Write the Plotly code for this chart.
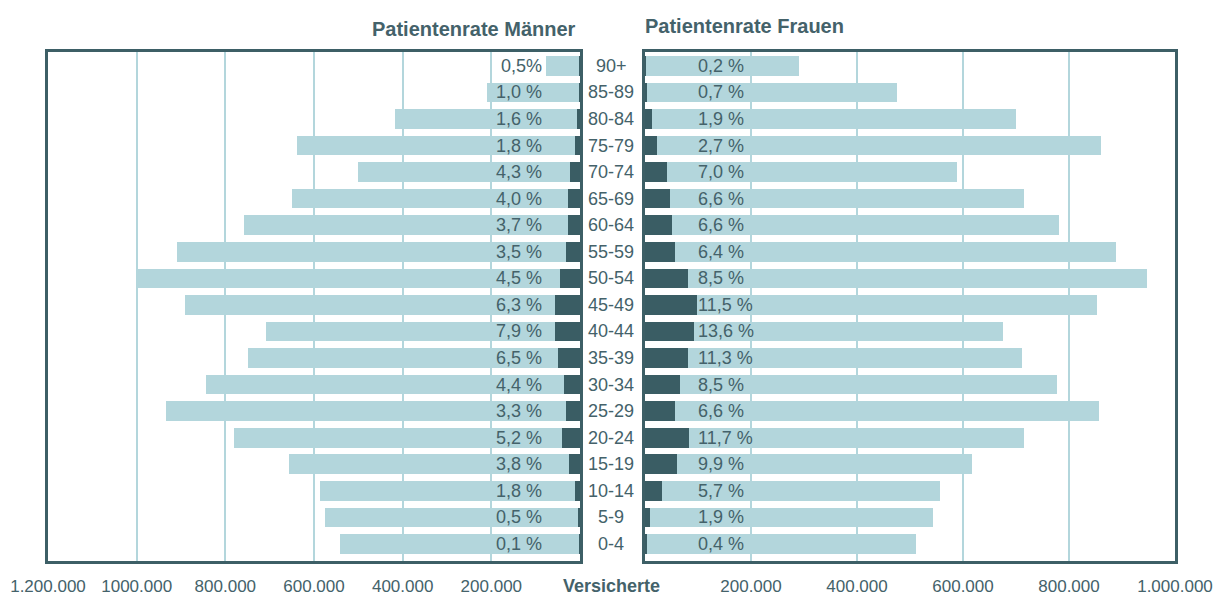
import plotly.graph_objects as go

# Age groups from top (90+) to bottom (0-4)
age_groups = ["90+", "85-89", "80-84", "75-79", "70-74", "65-69", "60-64", "55-59",
              "50-54", "45-49", "40-44", "35-39", "30-34", "25-29", "20-24", "15-19",
              "10-14", "5-9", "0-4"]

# Insured persons (Versicherte) per age group
men_insured = [77000, 210000, 418000, 638000, 500000, 649000, 758000, 909000,
               1000000, 891000, 708000, 749000, 844000, 934000, 780000, 656000,
               586000, 575000, 541000]
women_insured = [290000, 476000, 700000, 860000, 589000, 715000, 782000, 888000,
                 948000, 852000, 675000, 711000, 778000, 856000, 716000, 617000,
                 556000, 544000, 512000]

# Patient rates in percent
men_rate = [0.5, 1.0, 1.6, 1.8, 4.3, 4.0, 3.7, 3.5, 4.5, 6.3, 7.9, 6.5, 4.4, 3.3,
            5.2, 3.8, 1.8, 0.5, 0.1]
women_rate = [0.2, 0.7, 1.9, 2.7, 7.0, 6.6, 6.6, 6.4, 8.5, 11.5, 13.6, 11.3, 8.5,
              6.6, 11.7, 9.9, 5.7, 1.9, 0.4]

men_labels = ["0,5%", "1,0 %", "1,6 %", "1,8 %", "4,3 %", "4,0 %", "3,7 %", "3,5 %",
              "4,5 %", "6,3 %", "7,9 %", "6,5 %", "4,4 %", "3,3 %", "5,2 %", "3,8 %",
              "1,8 %", "0,5 %", "0,1 %"]
women_labels = [f"{r:.1f} %".replace(".", ",") for r in women_rate]

left_tickvals = [1200000, 1000000, 800000, 600000, 400000, 200000]
left_ticktext = ["1.200.000", "1000.000", "800.000", "600.000", "400.000", "200.000"]
right_tickvals = [200000, 400000, 600000, 800000, 1000000]
right_ticktext = ["200.000", "400.000", "600.000", "800.000", "1.000.000"]

men_patients = [v * r / 100 for v, r in zip(men_insured, men_rate)]
women_patients = [v * r / 100 for v, r in zip(women_insured, women_rate)]

W, H = 1225, 597
LIGHT = "#b3d6dc"
DARK = "#3a5d64"
TXT = "#44626a"
FRAME = "#3d5f66"
FONT = "Liberation Sans, Arial, sans-serif"

def px(x):
    return x / W

def py(y):
    return (H - y) / H

fig = go.Figure()
bw = 0.74
fig.add_trace(go.Bar(y=age_groups, x=men_insured, orientation="h", xaxis="x", yaxis="y",
                     marker=dict(color=LIGHT, line=dict(width=0)), width=bw, hoverinfo="skip"))
fig.add_trace(go.Bar(y=age_groups, x=men_patients, orientation="h", xaxis="x", yaxis="y",
                     marker=dict(color=DARK, line=dict(width=0)), width=bw, hoverinfo="skip"))
fig.add_trace(go.Bar(y=age_groups, x=women_insured, orientation="h", xaxis="x2", yaxis="y2",
                     marker=dict(color=LIGHT, line=dict(width=0)), width=bw, hoverinfo="skip"))
fig.add_trace(go.Bar(y=age_groups, x=women_patients, orientation="h", xaxis="x2", yaxis="y2",
                     marker=dict(color=DARK, line=dict(width=0)), width=bw, hoverinfo="skip"))

y_top, y_bot = 52, 561
y_dom = [py(y_bot), py(y_top)]
yrange = [-0.64, 18.52]
cat_order = list(reversed(age_groups))

axis_common = dict(showline=True, mirror=True, linecolor=FRAME, linewidth=2.5,
                   zeroline=False, ticks="", fixedrange=True, automargin=False)

fig.update_layout(
    width=W, height=H,
    margin=dict(l=0, r=0, t=0, b=0, autoexpand=False),
    paper_bgcolor="white", plot_bgcolor="white",
    barmode="overlay", bargap=0, showlegend=False,
    font=dict(family=FONT, color=TXT, size=17),
    xaxis=dict(domain=[px(48), px(580)], range=[1200000, 0], anchor="y",
               tickvals=left_tickvals, ticktext=left_ticktext,
               showgrid=True, gridcolor=LIGHT, gridwidth=2,
               tickfont=dict(size=17, color=TXT), ticklabelstandoff=8, **axis_common),
    xaxis2=dict(domain=[px(645), px(1175)], range=[0, 1000000], anchor="y2",
                tickvals=right_tickvals, ticktext=right_ticktext,
                showgrid=True, gridcolor=LIGHT, gridwidth=2,
                tickfont=dict(size=17, color=TXT), ticklabelstandoff=8, **axis_common),
    yaxis=dict(domain=y_dom, range=yrange, anchor="x", type="category",
               categoryorder="array", categoryarray=cat_order,
               showticklabels=False, showgrid=False, **axis_common),
    yaxis2=dict(domain=y_dom, range=yrange, anchor="x2", type="category",
                categoryorder="array", categoryarray=cat_order,
                showticklabels=False, showgrid=False, **axis_common),
)

annotations = []
for g, lm, lw in zip(age_groups, men_labels, women_labels):
    annotations.append(dict(x=px(611), y=g, xref="paper", yref="y", text=g, showarrow=False,
                            xanchor="center", yanchor="middle", font=dict(size=18, color=TXT)))
    annotations.append(dict(x=px(544), y=g, xref="paper", yref="y", text=lm, showarrow=False,
                            xanchor="right", yanchor="middle", font=dict(size=18, color=TXT)))
    annotations.append(dict(x=px(696), y=g, xref="paper", yref="y2", text=lw, showarrow=False,
                            xanchor="left", yanchor="middle", font=dict(size=18, color=TXT)))

annotations.append(dict(x=px(578), y=py(29), xref="paper", yref="paper",
                        text="<b>Patientenrate Männer</b>", showarrow=False,
                        xanchor="right", yanchor="middle", font=dict(size=20, color=TXT)))
annotations.append(dict(x=px(643), y=py(26.5), xref="paper", yref="paper",
                        text="<b>Patientenrate Frauen</b>", showarrow=False,
                        xanchor="left", yanchor="middle", font=dict(size=20, color=TXT)))
annotations.append(dict(x=px(611), y=py(586), xref="paper", yref="paper",
                        text="<b>Versicherte</b>", showarrow=False,
                        xanchor="center", yanchor="middle", font=dict(size=18, color=TXT)))
fig.update_layout(annotations=annotations)

fig.write_html("out.html", config={"displayModeBar": False},
               post_script="document.body.style.margin='0';document.body.style.overflow='hidden';")
